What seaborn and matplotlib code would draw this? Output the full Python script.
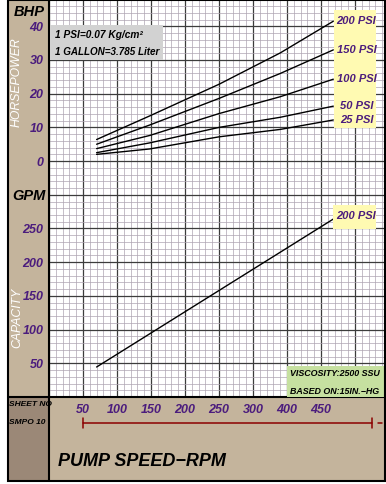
import matplotlib
matplotlib.use("Agg")
import matplotlib.pyplot as plt
import matplotlib.transforms as mtransforms
from matplotlib.lines import Line2D
from matplotlib.patches import Rectangle
from matplotlib.ticker import MultipleLocator
import numpy as np
import pandas as pd
import seaborn as sns

# horsepower curves (BHP) vs pump speed (RPM)
rpm = [70, 148, 250, 340, 418]
bhp_200 = [6.4, 13.4, 22.8, 32.1, 41.5]
bhp_150 = [5.0, 10.7, 18.6, 26.0, 33.0]
bhp_100 = [3.7, 7.6, 14.1, 19.1, 24.3]
bhp_50 = [2.5, 5.4, 10.0, 13.0, 16.3]
bhp_25 = [2.0, 3.6, 7.2, 9.4, 12.2]
psi_labels = ["200 PSI", "150 PSI", "100 PSI", "50 PSI", "25 PSI"]

# capacity (GPM) vs pump speed
rpm_cap = [70, 418]
gpm_200 = [44.5, 264]

bhp_ticks = [0, 10, 20, 30, 40]
gpm_ticks = [50, 100, 150, 200, 250]
xtick_pos = [50, 100, 150, 200, 250, 300, 350, 400]
xtick_labels = ["50", "100", "150", "200", "250", "300", "400", "450"]
rpm_scale = [50, 475]

W, H = 386, 484
TAN = "#c4b49c"
DARK = "#9b8877"
PURPLE = "#4b1c7d"
YELLOW = "#fffab2"

sns.set_style("white")
plt.rcParams["font.family"] = ["Liberation Sans", "DejaVu Sans"]

fig = plt.figure(figsize=(W / 100, H / 100), dpi=100, facecolor="white")


def frect(x0, y0, x1, y1, ax=None, **kw):
    r = Rectangle((x0 / W, 1 - y1 / H), (x1 - x0) / W, (y1 - y0) / H,
                  transform=fig.transFigure, **kw)
    if ax is None:
        fig.add_artist(r)
    else:
        r.set_clip_on(False)
        ax.add_patch(r)
    return r


def ftext(x, y, s, **kw):
    return fig.text(x / W, 1 - y / H, s, **kw)


# background panels
frect(8, 0, 49, 397, facecolor=TAN, edgecolor="none", zorder=0)
frect(49, 397, 385, 481, facecolor=TAN, edgecolor="none", zorder=0)
frect(8, 397, 49, 481, facecolor=DARK, edgecolor="none", zorder=0)

ax = fig.add_axes([49 / W, 1 - 397 / H, 336 / W, 397 / H])
ax.set_facecolor("white")
ax.set_xlim(0, 494)
ax.set_ylim(0, 589)

# grid (one sheet shared by both charts)
ax.set_xticks(np.arange(0, 500, 50))
ax.set_xticklabels([xtick_labels[xtick_pos.index(v)] if v in xtick_pos else ""
                    for v in np.arange(0, 500, 50)])
ax.set_yticks(np.arange(0, 600, 50))
ax.set_yticklabels([str(v) if v in gpm_ticks else "" for v in np.arange(0, 600, 50)])
ax.xaxis.set_minor_locator(MultipleLocator(10))
ax.yaxis.set_minor_locator(MultipleLocator(10))
ax.grid(which="minor", color="#aea4b2", lw=0.5)
ax.grid(which="major", color="#3c3c3c", lw=0.9)
ax.set_axisbelow(True)
ax.tick_params(which="both", length=0)
ax.tick_params(axis="y", pad=4, labelcolor=PURPLE, labelsize=9)
ax.tick_params(axis="x", pad=5, labelcolor=PURPLE, labelsize=9)
for lab in ax.get_xticklabels() + ax.get_yticklabels():
    lab.set_fontweight("bold")
    lab.set_fontstyle("italic")
for s in ["top", "right"]:
    ax.spines[s].set_visible(False)
for s in ["left", "bottom"]:
    ax.spines[s].set_color("black")
    ax.spines[s].set_linewidth(1.5)

# capacity line on GPM scale
cap_df = pd.DataFrame({"rpm": rpm_cap, "gpm": gpm_200})
sns.lineplot(data=cap_df, x="rpm", y="gpm", color="black", lw=1.0, ax=ax)
ax.set_xlabel("")
ax.set_ylabel("")

# horsepower scale: BHP 0 sits on GPM 350, 10 BHP per 50 GPM
ax2 = ax.twinx()
ax2.set_ylim((0 - 350) / 5, (589 - 350) / 5)
bhp_df = pd.DataFrame({
    "rpm": rpm * 5,
    "bhp": bhp_200 + bhp_150 + bhp_100 + bhp_50 + bhp_25,
    "psi": sum([[p] * len(rpm) for p in psi_labels], []),
})
sns.lineplot(data=bhp_df, x="rpm", y="bhp", units="psi", estimator=None,
             color="black", lw=1.0, ax=ax2)
ax2.set_xlim(0, 494)
ax2.yaxis.tick_left()
ax2.set_yticks(bhp_ticks)
ax2.set_yticklabels([str(v) for v in bhp_ticks])
ax2.tick_params(length=0, pad=4, labelcolor=PURPLE, labelsize=9)
for lab in ax2.get_yticklabels():
    lab.set_fontweight("bold")
    lab.set_fontstyle("italic")
for s in ax2.spines.values():
    s.set_visible(False)
ax2.set_xlabel("")
ax2.set_ylabel("")

# curve labels in yellow boxes
frect(334, 10, 376, 128, ax=ax2, facecolor=YELLOW, edgecolor="none", zorder=5)
frect(333, 205, 376, 229, ax=ax2, facecolor=YELLOW, edgecolor="none", zorder=5)
ends = [bhp_200[-1], bhp_150[-1], bhp_100[-1], bhp_50[-1], bhp_25[-1]]
for lab, yv in zip(psi_labels, ends):
    ax2.text(452, yv, lab, ha="center", va="center", color=PURPLE,
             fontsize=8, fontweight="bold", fontstyle="italic", zorder=10,
             clip_on=False)
ax2.text(452, (gpm_200[-1] + 5 - 350) / 5, "200 PSI", ha="center", va="center",
         color=PURPLE, fontsize=8, fontweight="bold", fontstyle="italic",
         zorder=10, clip_on=False)

# unit note box
frect(50, 25, 163, 60, ax=ax2, facecolor="#d2d2d2", edgecolor="none", zorder=5)
ftext(55, 35, "1 PSI=0.07 Kg/cm²", fontsize=7.3, fontstyle="italic",
      fontweight="bold", va="center", ha="left", color="black")
ftext(55, 52, "1 GALLON=3.785 Liter", fontsize=7.1, fontstyle="italic",
      fontweight="bold", va="center", ha="left", color="black")

# conditions box
frect(287, 366, 385, 397, ax=ax2, facecolor="#c6e0a0", edgecolor="none", zorder=5)
ftext(290, 373, "VISCOSITY:2500 SSU", fontsize=6.4, fontstyle="italic",
      fontweight="bold", va="center", ha="left", color="black")
ftext(290, 391, "BASED ON:15IN.\u2212HG", fontsize=6.4, fontstyle="italic",
      fontweight="bold", va="center", ha="left", color="black")

# left panel texts
ftext(29, 12, "BHP", fontsize=10.5, fontweight="bold", fontstyle="italic",
      ha="center", va="center", color="black")
ftext(29, 196, "GPM", fontsize=10.5, fontweight="bold", fontstyle="italic",
      ha="center", va="center", color="black")
ftext(17, 82, "HORSEPOWER", fontsize=8.8, fontstyle="italic", rotation=90,
      ha="center", va="center", color="white")
ftext(17, 318, "CAPACITY", fontsize=8.8, fontstyle="italic", rotation=90,
      ha="center", va="center", color="white")
ftext(9, 404, "SHEET NO", fontsize=6, fontweight="bold", fontstyle="italic",
      ha="left", va="center", color="black")
ftext(9, 423, "SMPO 10", fontsize=6, fontweight="bold", fontstyle="italic",
      ha="left", va="center", color="black")
ftext(58, 462, "PUMP SPEED\u2212RPM", fontsize=13, fontweight="bold",
      fontstyle="italic", ha="left", va="center", color="black")

# speed scale bar under the axis
trans = mtransforms.blended_transform_factory(ax.transData, ax.transAxes)
yb = (397 - 423) / 397
dy = 5 / 397
ax.plot(rpm_scale, [yb, yb], color="#8b0000", lw=1.1, transform=trans, clip_on=False)
for xv in rpm_scale:
    ax.plot([xv, xv], [yb - dy, yb + dy], color="#8b0000", lw=1.1,
            transform=trans, clip_on=False)
ax.plot([484, 490], [yb, yb], color="#8b0000", lw=1.1, transform=trans, clip_on=False)

# frame lines
fig.add_artist(Line2D([8 / W, 49 / W], [1 - 397 / H] * 2, color="black", lw=1.5,
                      transform=fig.transFigure))
fig.add_artist(Line2D([48.7 / W] * 2, [1 - 397 / H, 1 - 481 / H], color="black", lw=1.5,
                      transform=fig.transFigure))
frect(8, 0, 385, 481, facecolor="none", edgecolor="black", lw=1.5, zorder=5)

fig.savefig("out.png", dpi=100, facecolor="white")
